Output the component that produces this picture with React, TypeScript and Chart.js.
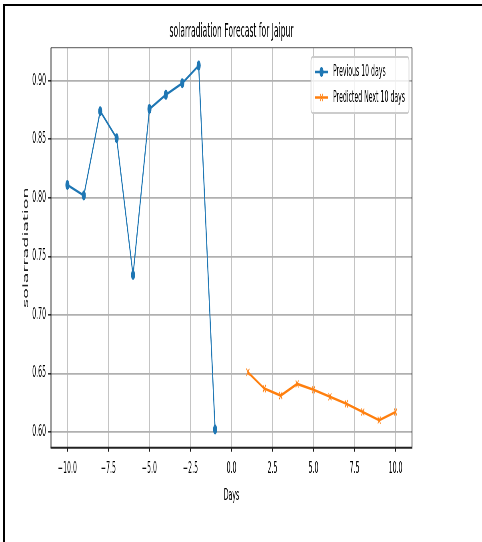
import React, { useEffect, useRef } from 'react';
import { Chart, registerables } from 'chart.js';

Chart.register(...registerables);

// ---- data ----
const TITLE = 'solarradiation Forecast for Jaipur';
const X_LABEL = 'Days';
const Y_LABEL = 'solarradiation';
const PREV_LABEL = 'Previous 10 days';
const NEXT_LABEL = 'Predicted Next 10 days';

const prevDays = [-10, -9, -8, -7, -6, -5, -4, -3, -2, -1];
const prevValues = [0.811, 0.802, 0.874, 0.851, 0.734, 0.876, 0.888, 0.898, 0.913, 0.602];
const nextDays = [1, 2, 3, 4, 5, 6, 7, 8, 9, 10];
const nextValues = [0.651, 0.637, 0.631, 0.641, 0.636, 0.630, 0.624, 0.617, 0.610, 0.617];

const xTicks = [-10, -7.5, -5, -2.5, 0, 2.5, 5, 7.5, 10];
const yTicks = [0.6, 0.65, 0.7, 0.75, 0.8, 0.85, 0.9];

const X_MIN = -11;
const X_MAX = 11;
const Y_MIN = 0.5865;
const Y_MAX = 0.9283;

// ---- layout / style ----
const SX = 0.4; // horizontal squash of the whole figure
const H = 542;
const W = Math.round(482 / SX);
const PLOT_LEFT = 51;
const PLOT_RIGHT = 412;
const PLOT_TOP = 47.7;
const PLOT_BOTTOM = 447.7;

const FONT = '"DejaVu Sans", sans-serif';
const TICK_SIZE = 15.5;
const TITLE_SIZE = 19;
const YLABEL_SIZE = 17.5;
const LEGEND_SIZE = 15.5;
const BLUE = '#1f77b4';
const ORANGE = '#ff7f0e';
const GRID_H = '#b0b0b0';
const GRID_V = '#c4c4c4';

const fmtX = (v: number) => v.toFixed(1).replace('-', '\u2212');
const fmtY = (v: number) => v.toFixed(2).replace('-', '\u2212');

const frameAndLegend = {
  id: 'frameAndLegend',
  afterDatasetsDraw(chart: any) {
    const { ctx, chartArea: ca } = chart;
    ctx.save();
    // axes frame (spines)
    const line = (x1: number, y1: number, x2: number, y2: number, c: string, w: number) => {
      ctx.strokeStyle = c;
      ctx.lineWidth = w;
      ctx.beginPath();
      ctx.moveTo(x1, y1);
      ctx.lineTo(x2, y2);
      ctx.stroke();
    };
    line(ca.left, ca.top, ca.right, ca.top, '#777', 1.3);
    line(ca.left, ca.top, ca.left, ca.bottom, '#000', 2);
    line(ca.right, ca.top, ca.right, ca.bottom, '#000', 2);
    line(ca.left - 1, ca.bottom, ca.right + 1, ca.bottom, '#222', 2);

    // legend
    ctx.font = `${LEGEND_SIZE}px ${FONT}`;
    const items = chart.data.datasets.map((d: any) => ({
      label: d.label,
      color: d.borderColor,
      style: d.pointStyle,
      radius: d.pointRadius,
      lw: d.borderWidth,
    }));
    const maxW = Math.max(...items.map((it: any) => ctx.measureText(it.label).width));
    const boxRight = ca.right - 3 / SX;
    const boxW = 22 / SX + maxW + 4 / SX;
    const boxLeft = boxRight - boxW;
    const boxTop = ca.top + 9.3;
    const boxH = 56;
    ctx.fillStyle = 'rgba(255,255,255,0.8)';
    ctx.strokeStyle = '#cccccc';
    ctx.lineWidth = 1.8;
    ctx.beginPath();
    (ctx as any).roundRect(boxLeft, boxTop, boxW, boxH, 4);
    ctx.fill();
    ctx.stroke();

    items.forEach((it: any, i: number) => {
      const y = boxTop + 15 + i * 25.5;
      const x1 = boxLeft + 4 / SX;
      const x2 = boxLeft + 17 / SX;
      const xm = (x1 + x2) / 2;
      ctx.strokeStyle = it.color;
      ctx.lineWidth = it.lw;
      ctx.beginPath();
      ctx.moveTo(x1, y);
      ctx.lineTo(x2, y);
      ctx.stroke();
      if (it.style === 'circle') {
        ctx.fillStyle = it.color;
        ctx.beginPath();
        ctx.arc(xm, y, it.radius, 0, Math.PI * 2);
        ctx.fill();
      } else {
        const r = it.radius * Math.SQRT1_2;
        ctx.lineWidth = 1.6;
        ctx.beginPath();
        ctx.moveTo(xm - r, y - r);
        ctx.lineTo(xm + r, y + r);
        ctx.moveTo(xm + r, y - r);
        ctx.lineTo(xm - r, y + r);
        ctx.stroke();
      }
      ctx.fillStyle = '#000';
      ctx.textBaseline = 'middle';
      ctx.textAlign = 'left';
      ctx.fillText(it.label, boxLeft + 22 / SX, y);
    });
    ctx.restore();
  },
};

export default function App() {
  const ref = useRef<HTMLCanvasElement | null>(null);

  useEffect(() => {
    if (!ref.current) return;
    const titleLH = TITLE_SIZE * 1.2;
    const titlePadTop = 32 - titleLH / 2;
    const chart = new Chart(ref.current, {
      type: 'line',
      data: {
        datasets: [
          {
            label: PREV_LABEL,
            data: prevDays.map((d, i) => ({ x: d, y: prevValues[i] })),
            borderColor: BLUE,
            backgroundColor: BLUE,
            borderWidth: 2.6,
            pointStyle: 'circle',
            pointRadius: 5,
            pointBorderWidth: 0,
            pointBackgroundColor: BLUE,
            tension: 0,
          },
          {
            label: NEXT_LABEL,
            data: nextDays.map((d, i) => ({ x: d, y: nextValues[i] })),
            borderColor: ORANGE,
            backgroundColor: ORANGE,
            borderWidth: 2.6,
            pointStyle: 'crossRot',
            pointRadius: 5,
            pointBorderWidth: 1.6,
            pointBorderColor: ORANGE,
            tension: 0,
          },
        ],
      },
      options: {
        animation: false,
        responsive: false,
        devicePixelRatio: 1,
        events: [],
        layout: { padding: { left: 0, right: W - PLOT_RIGHT / SX, top: 0, bottom: 0 } },
        plugins: {
          legend: { display: false },
          tooltip: { enabled: false },
          title: {
            display: true,
            fullSize: false,
            text: TITLE,
            color: '#000',
            font: { family: FONT, size: TITLE_SIZE, weight: 'normal' },
            padding: { top: titlePadTop, bottom: PLOT_TOP - titlePadTop - titleLH },
          },
        },
        scales: {
          x: {
            type: 'linear',
            min: X_MIN,
            max: X_MAX,
            bounds: 'data',
            afterBuildTicks: (axis: any) => {
              axis.ticks = xTicks.map((v) => ({ value: v }));
            },
            afterFit: (axis: any) => {
              axis.height = H - PLOT_BOTTOM;
            },
            border: { display: false },
            grid: { color: GRID_V, lineWidth: 2, tickLength: 4, tickColor: '#000', tickWidth: 1.8 },
            ticks: {
              color: '#000',
              font: { family: FONT, size: TICK_SIZE },
              padding: 8,
              maxRotation: 0,
              autoSkip: false,
              callback: (v: any) => fmtX(Number(v)),
            },
            title: {
              display: true,
              text: X_LABEL,
              color: '#000',
              font: { family: FONT, size: TICK_SIZE },
              padding: { top: 0, bottom: 37 },
            },
          },
          y: {
            type: 'linear',
            min: Y_MIN,
            max: Y_MAX,
            bounds: 'data',
            afterBuildTicks: (axis: any) => {
              axis.ticks = yTicks.map((v) => ({ value: v }));
            },
            afterFit: (axis: any) => {
              axis.width = PLOT_LEFT / SX;
            },
            border: { display: false },
            grid: { color: GRID_H, lineWidth: 1.7, tickLength: 3 / SX, tickColor: '#000', tickWidth: 1.3 },
            ticks: {
              color: '#000',
              font: { family: FONT, size: TICK_SIZE },
              padding: 2 / SX,
              autoSkip: false,
              callback: (v: any) => fmtY(Number(v)),
            },
            title: {
              display: true,
              text: Y_LABEL,
              color: '#222',
              font: { family: FONT, size: YLABEL_SIZE },
              padding: { top: 26 / SX - YLABEL_SIZE * 0.6, bottom: 0 },
            },
          },
        },
      },
      plugins: [frameAndLegend],
    } as any);
    return () => chart.destroy();
  }, []);

  return (
    <div style={{ position: 'absolute', left: 0, top: 0, width: 482, height: 542, overflow: 'hidden', background: '#fff' }}>
      <div style={{ position: 'absolute', left: 0, top: 0, width: W, height: H, transform: `scaleX(${SX})`, transformOrigin: '0 0' }}>
        <canvas ref={ref} width={W} height={H} style={{ width: W, height: H, display: 'block' }} />
      </div>
      <div style={{ position: 'absolute', left: 3, top: 4, width: 479, height: 2, background: '#000' }} />
      <div style={{ position: 'absolute', left: 3, top: 4, width: 2, height: 538, background: '#000' }} />
    </div>
  );
}
